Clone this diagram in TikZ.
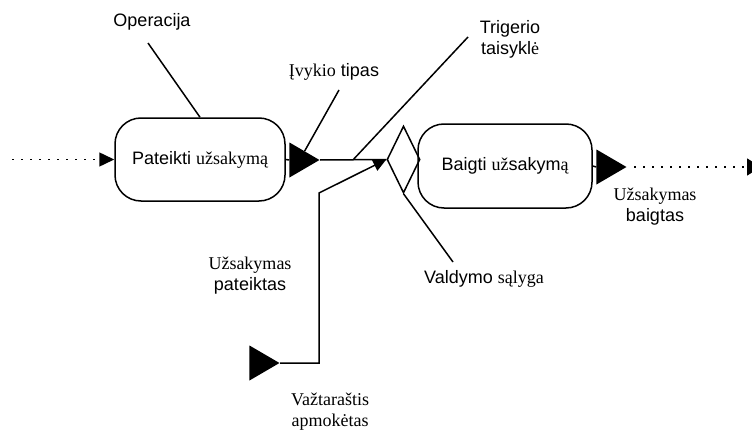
\documentclass[tikz,border=0pt]{standalone}
\usepackage{fontspec}
\setmainfont{Liberation Sans}
\newfontfamily\serifpart{Liberation Serif}
\usetikzlibrary{shapes.geometric,arrows.meta,calc}
\newcommand\lblfont{\fontsize{18}{21}\selectfont}

\begin{document}
\begin{tikzpicture}[x=1pt,y=-1pt,
  lw/.style={line width=1.5pt},
  taskbox/.style={draw,lw,rounded corners=26pt,minimum width=170pt,
    minimum height=83pt,inner sep=0pt,font=\lblfont},
  eventtri/.style={isosceles triangle,isosceles triangle stretches,
    fill=black,draw=none,inner sep=0pt,minimum width=35pt,
    minimum height=30pt,anchor=apex},
  gate/.style={diamond,draw,lw,minimum width=33pt,minimum height=67pt,
    inner sep=0pt},
  flow/.style={lw,-{Triangle[length=13pt,width=12pt]}},
  dotflow/.style={lw,dash pattern=on 2pt off 7pt,
    -{Triangle[length=15pt,width=14pt]}},
  pointer/.style={lw},
  lbl/.style={inner sep=0pt,font=\lblfont,align=center}
]
\useasboundingbox (0,0) rectangle (752,436);

% activities, gate and events
\node[taskbox] (submit) at (200,159.5) {Pateikti {\serifpart užsakymą}};
\node[taskbox,minimum width=174pt,minimum height=84pt] (finish) at (505,166)
  {Baigti {\serifpart už}sakym{\serifpart ą}};
\node[gate] (ctrl) at (403.5,159.5) {};
\node[eventtri] (evA) at (320,160) {};
\node[eventtri] (evB) at (627,167) {};
\node[eventtri] (evC) at (280,363) {};

% free ends of the flows
\coordinate (inStart) at (12,159.5);
\coordinate (outEnd) at (761,167);
\coordinate (bend) at (319,193);

% flows
\draw[dotflow] (inStart) -- (submit.west);
\draw[lw] (submit.east) -- (evA.lower side);
\draw[lw] (evA.apex) -- (ctrl.west);
\draw[flow] (evC.apex) -| (bend) -- (ctrl.west);
\draw[lw] (finish.east) -- (evB.lower side);
\draw[dotflow,dash phase=2pt,-{Triangle[length=14pt,width=17pt]}]
  (evB.apex) -- (outEnd);

% labels
\node[lbl,anchor=base] (opLabel) at (152,27) {Operacija};
\node[lbl,anchor=base] (evLabel) at (334,77) {{\serifpart Įvykio} tipas};
\node[lbl,anchor=north] (trigLabel) at (510,20) {Trigerio\\taisykl{\serifpart ė}};
\node[lbl,anchor=base] (condLabel) at (484,283) {Valdymo {\serifpart sąlyga}};
\node[lbl,anchor=north] (doneLabel) at (655,188) {{\serifpart Užsakymas}\\baigtas};
\node[lbl,anchor=north] (sentLabel) at (250,257) {{\serifpart Užsakymas}\\pateiktas};
\node[lbl,anchor=north] (paidLabel) at (330,393)
  {{\serifpart Važtaraštis}\\{\serifpart apmokėtas}};

% pointer lines from labels
\coordinate (opTail) at (148,43);
\coordinate (evTail) at (339,90);
\coordinate (trigTail) at (468,37);
\coordinate (condTail) at (453,262);
\draw[pointer] (opTail) -- (submit.north);
\draw[pointer] (evTail) -- (evA.left side);
\draw[pointer] (trigTail) -- ($(evA.apex)!0.5!(ctrl.west)$);
\draw[pointer] (ctrl.south) -- (condTail);
\end{tikzpicture}
\end{document}
